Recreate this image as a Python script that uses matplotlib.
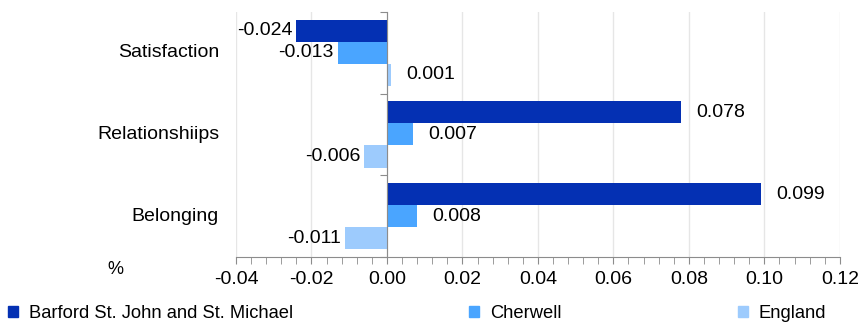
import matplotlib
matplotlib.use("Agg")
import matplotlib.pyplot as plt
from matplotlib.patches import Patch
from matplotlib.ticker import MultipleLocator, FormatStrFormatter
import numpy as np

plt.rcParams['font.family'] = ['Liberation Sans', 'DejaVu Sans']

categories = ["Satisfaction", "Relationshiips", "Belonging"]
series_names = ["Barford St. John and St. Michael", "Cherwell", "England"]
barford = [-0.024, 0.078, 0.099]
cherwell = [-0.013, 0.007, 0.008]
england = [0.001, -0.006, -0.011]
colors = ["#0430b3", "#4aa5ff", "#9dcbfd"]

fig = plt.figure(figsize=(8.59, 3.24), dpi=100)
ax = fig.add_axes([0.2747, 0.207, 0.703, 0.756])

y = np.arange(len(categories))
h = 0.27
for i, (vals, c) in enumerate(zip([barford, cherwell, england], colors)):
    pos = y + (i - 1) * h
    ax.barh(pos, vals, height=h, color=c, zorder=3)
    for p, v in zip(pos, vals):
        if v >= 0:
            ax.annotate(f"{v:.3f}", (v, p), xytext=(11, 0), textcoords="offset points",
                        ha="left", va="center", fontsize=14)
        else:
            ax.annotate(f"{v:.3f}", (v, p), xytext=(-3, 0), textcoords="offset points",
                        ha="right", va="center", fontsize=14)

ax.set_xlim(-0.04, 0.12)
ax.set_ylim(2.5, -0.5)
ax.xaxis.set_major_locator(MultipleLocator(0.02))
ax.xaxis.set_minor_locator(MultipleLocator(0.004))
ax.xaxis.set_major_formatter(FormatStrFormatter("%.2f"))
ax.grid(axis="x", color="#e6e6e6", linewidth=1, zorder=0)

for s in ["top", "right"]:
    ax.spines[s].set_visible(False)
ax.spines["bottom"].set_color("#8c8c8c")
ax.spines["left"].set_position(("data", 0))
ax.spines["left"].set_color("#8c8c8c")
ax.spines["left"].set_zorder(4)
ax.set_yticks([-0.5, 0.5, 1.5, 2.5])
ax.set_yticklabels([])
ax.tick_params(axis="y", length=5, color="#8c8c8c")
ax.tick_params(axis="x", which="both", length=5, color="#8c8c8c", labelsize=14, pad=5)

for yy, name in zip(y, categories):
    ax.text(-0.028, yy, name, transform=ax.get_yaxis_transform(), ha="right",
            va="center", fontsize=14)

fig.text(0.134, 0.167, "%", fontsize=13, ha="center", va="center")

handles = [Patch(color=c) for c in colors]
fig.legend(handles, series_names, loc="lower left", bbox_to_anchor=(-0.01, -0.045),
           ncol=3, frameon=False, fontsize=13.2, handlelength=0.55, handleheight=0.55,
           handletextpad=0.6, columnspacing=9.6)

fig.savefig("out.png", dpi=100)
